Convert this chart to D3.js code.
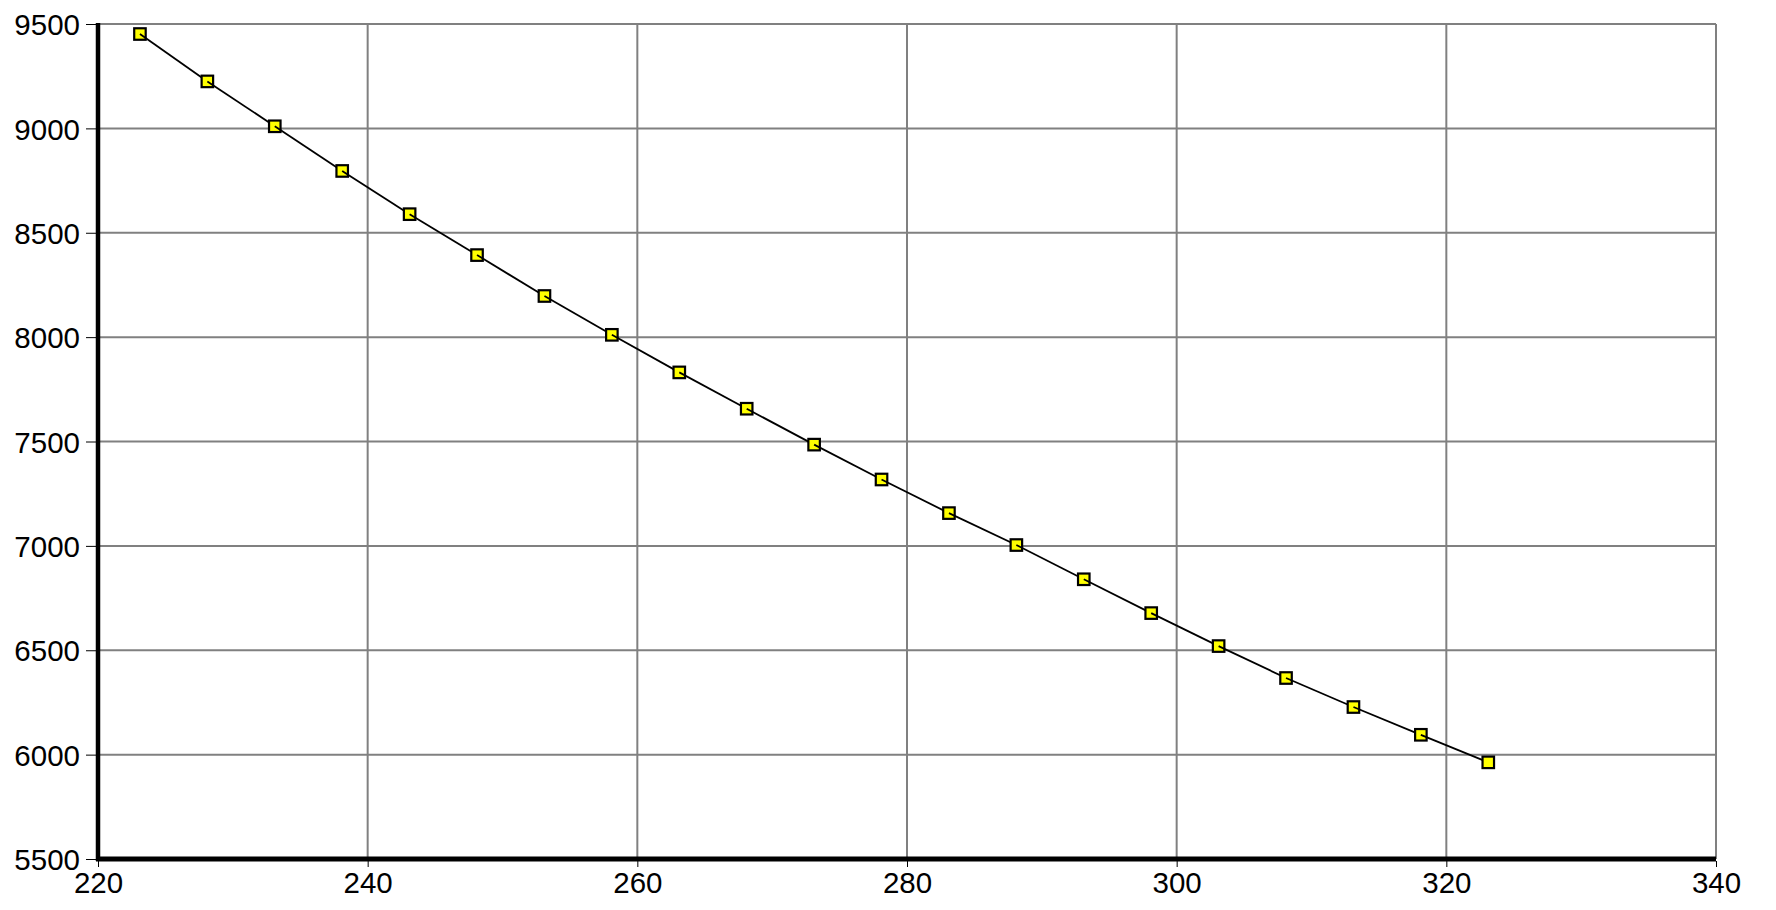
<!DOCTYPE html>
<html>
<head>
  <meta charset="utf-8">
  <title>Line chart</title>
  <script src="https://d3js.org/d3.v7.min.js"></script>
  <style>
    body {
      margin: 0;
      background: #fff;
    }
    svg text {
      font-family: "Liberation Sans", Arial, sans-serif;
      font-size: 29.5px;
      fill: #000;
    }
  </style>
</head>
<body>
<script>
  // data
  var xValues = [223, 228, 233, 238, 243, 248, 253, 258, 263, 268, 273,
                 278, 283, 288, 293, 298, 303, 308, 313, 318, 323];
  var yValues = [9452, 9225, 9010, 8796, 8589, 8393, 8197, 8011, 7831, 7657, 7485,
                 7318, 7157, 7004, 6840, 6678, 6520, 6367, 6228, 6095, 5963];
  var xTicks = [220, 240, 260, 280, 300, 320, 340];
  var yTicks = [5500, 6000, 6500, 7000, 7500, 8000, 8500, 9000, 9500];

  var W = 1776, H = 910;
  var plotLeft = 98, plotRight = 1716, plotTop = 24, plotBottom = 859;

  var x = d3.scaleLinear().domain([220, 340]).range([plotLeft, plotRight]);
  var y = d3.scaleLinear().domain([5500, 9500]).range([plotBottom, plotTop]);

  var svg = d3.select(document.body)
    .append("svg")
    .attr("width", W)
    .attr("height", H);

  // grid
  var grid = svg.append("g").attr("stroke", "#808080").attr("stroke-width", 2);
  grid.selectAll(".gx")
    .data(xTicks.slice(1))
    .enter()
    .append("line")
    .attr("x1", function (d) { return x(d); })
    .attr("x2", function (d) { return x(d); })
    .attr("y1", plotTop)
    .attr("y2", plotBottom);
  grid.selectAll(".gy")
    .data(yTicks.slice(1))
    .enter()
    .append("line")
    .attr("x1", plotLeft)
    .attr("x2", plotRight)
    .attr("y1", function (d) { return y(d); })
    .attr("y2", function (d) { return y(d); });

  // axes with short ticks
  var axY = svg.append("g")
    .attr("transform", "translate(" + (plotLeft - 2) + ",0)")
    .call(d3.axisLeft(y).tickValues(yTicks).tickSize(10).tickPadding(6).tickFormat(d3.format("d")));
  var axX = svg.append("g")
    .attr("transform", "translate(0," + (plotBottom + 2) + ")")
    .call(d3.axisBottom(x).tickValues(xTicks).tickSize(6).tickPadding(5).tickFormat(d3.format("d")));
  axY.select(".domain").remove();
  axX.select(".domain").remove();
  axY.selectAll("text").attr("dy", "0.36em");
  axX.selectAll("text").attr("dy", "0.72em");
  svg.selectAll(".tick line").attr("stroke", "#000").attr("stroke-width", 1);

  // thick axis lines
  svg.append("line")
    .attr("x1", plotLeft).attr("x2", plotLeft)
    .attr("y1", plotTop - 1).attr("y2", plotBottom + 2)
    .attr("stroke", "#000").attr("stroke-width", 4.5);
  svg.append("line")
    .attr("x1", plotLeft - 2).attr("x2", plotRight)
    .attr("y1", plotBottom).attr("y2", plotBottom)
    .attr("stroke", "#000").attr("stroke-width", 5);

  // series: marker, then the segment leaving it
  var pts = xValues.map(function (v, i) { return [v, yValues[i]]; });
  var s = 11.5;
  var items = svg.append("g").selectAll("g")
    .data(pts)
    .enter()
    .append("g");
  items.append("rect")
    .attr("x", function (d) { return x(d[0]) + 1.5 - s / 2; })
    .attr("y", function (d) { return y(d[1]) - s / 2; })
    .attr("width", s)
    .attr("height", s)
    .attr("fill", "#ffff00")
    .attr("stroke", "#000")
    .attr("stroke-width", 2.2);
  items.filter(function (d, i) { return i < pts.length - 1; })
    .append("line")
    .attr("x1", function (d) { return x(d[0]) + 1.5; })
    .attr("y1", function (d) { return y(d[1]); })
    .attr("x2", function (d, i) { return x(pts[i + 1][0]) + 1.5; })
    .attr("y2", function (d, i) { return y(pts[i + 1][1]); })
    .attr("stroke", "#000")
    .attr("stroke-width", 1.8);
</script>
</body>
</html>
